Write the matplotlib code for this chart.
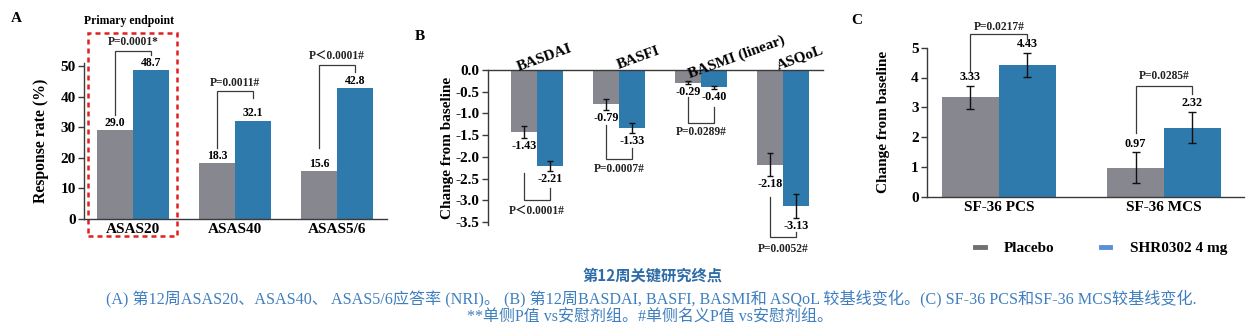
import matplotlib
matplotlib.use("Agg")
import matplotlib.pyplot as plt
from matplotlib.lines import Line2D
from matplotlib.patches import Rectangle
import numpy as np

plt.rcParams['font.family'] = ['Liberation Serif', 'Noto Sans CJK SC', 'DejaVu Sans']
plt.rcParams['font.weight'] = 'bold'
plt.rcParams['axes.unicode_minus'] = False

# ---- data ----
groups = ["Placebo", "SHR0302 4 mg"]

a_categories = ["ASAS20", "ASAS40", "ASAS5/6"]
a_placebo = [29.0, 18.3, 15.6]
a_shr = [48.7, 32.1, 42.8]
a_pvalues = ["P=0.0001*", "P=0.0011#", "P\uff1c0.0001#"]

b_categories = ["BASDAI", "BASFI", "BASMI (linear)", "ASQoL"]
b_placebo = [-1.43, -0.79, -0.29, -2.18]
b_shr = [-2.21, -1.33, -0.40, -3.13]
b_placebo_err = [0.13, 0.12, 0.035, 0.27]
b_shr_err = [0.12, 0.12, 0.04, 0.27]
b_pvalues = ["P\uff1c0.0001#", "P=0.0007#", "P=0.0289#", "P=0.0052#"]

c_categories = ["SF-36 PCS", "SF-36 MCS"]
c_placebo = [3.33, 0.97]
c_shr = [4.43, 2.32]
c_placebo_err = [0.39, 0.52]
c_shr_err = [0.40, 0.52]
c_pvalues = ["P=0.0217#", "P=0.0285#"]

GRAY = "#878790"
BLUE = "#2e7aad"
LINE = "#3a3a3a"
CAP_BLUE = "#3f7fbf"

W, H = 1257, 335
fig = plt.figure(figsize=(W / 100, H / 100), dpi=100)


def px_axes(x0, y0, x1, y1):
    return fig.add_axes([x0 / W, 1 - y1 / H, (x1 - x0) / W, (y1 - y0) / H])


def style_axes(ax):
    for s in ax.spines.values():
        s.set_color(LINE)
        s.set_linewidth(1.0)
    ax.tick_params(axis='y', length=4, width=1, color=LINE, labelsize=11, pad=2)
    ax.tick_params(axis='x', length=0, labelsize=11, pad=3)
    for lab in ax.get_yticklabels():
        lab.set_fontweight('bold')


def bracket(ax, x0, x1, y_left, y_top, y_right, text, y_text):
    ax.plot([x0, x0, x1, x1], [y_left, y_top, y_top, y_right], color=LINE,
            lw=0.9, clip_on=False, solid_joinstyle='miter')
    ax.text((x0 + x1) / 2, y_text, text, ha='center', va='center', fontsize=8.3,
            fontweight='bold', color='#222222', clip_on=False)


# ================= Panel A =================
axA = px_axes(84, 63, 387, 219)
xa = np.arange(len(a_categories))
wa = 0.353
axA.bar(xa - wa / 2, a_placebo, wa, color=GRAY)
axA.bar(xa + wa / 2, a_shr, wa, color=BLUE)
axA.set_xlim(-0.48, 2.49)
axA.set_ylim(0, 51)
axA.set_yticks(np.arange(0, 51, 10))
axA.set_xticks(xa)
axA.set_xticklabels(a_categories, fontsize=11, fontweight='bold')
axA.spines['top'].set_visible(False)
axA.spines['right'].set_visible(False)
axA.set_ylabel("Response rate (%)", fontsize=11.3, fontweight='bold', labelpad=8)
style_axes(axA)
for xi, v in zip(xa - wa / 2, a_placebo):
    axA.annotate(f"{v:.1f}", (xi, v), xytext=(0, 1), textcoords='offset points',
                 ha='center', va='bottom', fontsize=8.5, fontweight='bold')
for xi, v in zip(xa + wa / 2, a_shr):
    axA.annotate(f"{v:.1f}", (xi, v), xytext=(0, 1), textcoords='offset points',
                 ha='center', va='bottom', fontsize=8.5, fontweight='bold')
a_brackets = [(34.0, 55.0, 53.6, 57.9), (23.2, 42.0, 39.6, 44.3), (23.3, 50.3, 48.0, 53.0)]
for xi, p, (yl, yt, yr, ytx) in zip(xa, a_pvalues, a_brackets):
    bracket(axA, xi - wa / 2, xi + wa / 2, yl, yt, yr, p, ytx)
# primary endpoint frame
axA.add_patch(Rectangle((-0.44, -5.6), 0.87, 66.4, fill=False, ec="#e02020",
                        lw=1.8, ls=(0, (2, 1.6)), clip_on=False))
fig.text(129 / W, 1 - 21 / H, "Primary endpoint", ha='center', va='center',
         fontsize=8.5, fontweight='bold')
fig.text(16 / W, 1 - 18 / H, "A", ha='center', va='center', fontsize=11, fontweight='bold')

# ================= Panel B =================
axB = px_axes(488, 70, 823, 225)
xb = np.arange(len(b_categories))
wb = 0.317
axB.bar(xb - wb / 2, b_placebo, wb, color=GRAY)
axB.bar(xb + wb / 2, b_shr, wb, color=BLUE)
axB.errorbar(xb - wb / 2, b_placebo, yerr=b_placebo_err, fmt='none', ecolor='#111111',
             elinewidth=1, capsize=2.5, capthick=1)
axB.errorbar(xb + wb / 2, b_shr, yerr=b_shr_err, fmt='none', ecolor='#111111',
             elinewidth=1, capsize=2.5, capthick=1)
axB.set_xlim(-0.6, 3.49)
axB.set_ylim(-3.57, 0)
b_ticks = np.arange(0, -3.51, -0.5)
axB.set_yticks(b_ticks)
axB.set_yticklabels([f"{t:.1f}" for t in b_ticks])
axB.set_xticks([])
axB.spines['bottom'].set_visible(False)
axB.spines['right'].set_visible(False)
axB.set_ylabel("Change from baseline", fontsize=11, fontweight='bold', labelpad=1)
style_axes(axB)
for xi, v, e in zip(xb - wb / 2, b_placebo, b_placebo_err):
    axB.annotate(f"{v:.2f}", (xi, v - e), xytext=(0, -1.5), textcoords='offset points',
                 ha='center', va='top', fontsize=8.7, fontweight='bold')
for xi, v, e in zip(xb + wb / 2, b_shr, b_shr_err):
    axB.annotate(f"{v:.2f}", (xi, v - e), xytext=(0, -1.5), textcoords='offset points',
                 ha='center', va='top', fontsize=8.7, fontweight='bold')
b_brackets = [(-2.38, -3.0, -2.72, -3.27), (-1.27, -2.05, -1.80, -2.29),
              (-0.62, -1.22, -0.85, -1.43), (-2.92, -3.85, -3.74, -4.12)]
for xi, p, (yl, yb, yr, ytx) in zip(xb, b_pvalues, b_brackets):
    bracket(axB, xi - wb / 2, xi + wb / 2, yl, yb, yr, p, ytx)
b_label_dx = [0.12, 0.27, 0.46, 0.24]
for xi, dx, name in zip(xb, b_label_dx, b_categories):
    axB.text(xi + dx, 0.14, name, rotation=20, rotation_mode='anchor', ha='center',
             va='bottom', fontsize=11, fontweight='bold', clip_on=False)
fig.text(420 / W, 1 - 37 / H, "B", ha='center', va='center', fontsize=11, fontweight='bold')

# ================= Panel C =================
axC = px_axes(927, 47.7, 1244, 196.7)
xc = np.arange(len(c_categories))
wc = 0.345
axC.bar(xc - wc / 2, c_placebo, wc, color=GRAY)
axC.bar(xc + wc / 2, c_shr, wc, color=BLUE)
axC.errorbar(xc - wc / 2, c_placebo, yerr=c_placebo_err, fmt='none', ecolor='#111111',
             elinewidth=1, capsize=3, capthick=1)
axC.errorbar(xc + wc / 2, c_shr, yerr=c_shr_err, fmt='none', ecolor='#111111',
             elinewidth=1, capsize=3, capthick=1)
axC.set_xlim(-0.436, 1.485)
axC.set_ylim(0, 5)
axC.set_yticks(np.arange(0, 6, 1))
axC.set_xticks(xc)
axC.set_xticklabels(c_categories, fontsize=11, fontweight='bold')
axC.spines['top'].set_visible(False)
axC.spines['right'].set_visible(False)
axC.set_ylabel("Change from baseline", fontsize=11, fontweight='bold', labelpad=15)
style_axes(axC)
for xi, v, e in zip(xc - wc / 2, c_placebo, c_placebo_err):
    axC.annotate(f"{v:.2f}", (xi, v + e), xytext=(0, 2), textcoords='offset points',
                 ha='center', va='bottom', fontsize=8.7, fontweight='bold')
for xi, v, e in zip(xc + wc / 2, c_shr, c_shr_err):
    axC.annotate(f"{v:.2f}", (xi, v + e), xytext=(0, 2), textcoords='offset points',
                 ha='center', va='bottom', fontsize=8.7, fontweight='bold')
c_brackets = [(4.18, 5.46, 5.28, 5.68), (2.13, 3.71, 3.45, 4.05)]
for xi, p, (yl, yt, yr, ytx) in zip(xc, c_pvalues, c_brackets):
    bracket(axC, xi - wc / 2, xi + wc / 2, yl, yt, yr, p, ytx)
fig.text(857 / W, 1 - 21 / H, "C", ha='center', va='center', fontsize=11, fontweight='bold')

handles = [Line2D([], [], color="#707070", lw=3.5),
           Line2D([], [], color="#5a8fd6", lw=3.5)]
fig.legend(handles, groups, loc='center', bbox_to_anchor=(1101 / W, 1 - 248 / H),
           ncol=2, frameon=False, handlelength=0.65, handletextpad=1.25,
           columnspacing=3.0, prop={'weight': 'bold', 'size': 11})

# ================= caption =================
fig.text(652 / W, 1 - 276 / H, "第12周关键研究终点", ha='center', va='center',
         fontsize=11, fontweight='bold', color="#2d6ca8",
         family=['Noto Sans CJK SC'])
fig.text(651 / W, 1 - 298 / H,
         "(A) 第12周ASAS20、ASAS40、 ASAS5/6应答率 (NRI)。 (B) 第12周BASDAI, BASFI, BASMI和 ASQoL 较基线变化。"
         "(C) SF-36 PCS和SF-36 MCS较基线变化.",
         ha='center', va='center', fontsize=11.6, fontweight='normal', color=CAP_BLUE)
fig.text(650 / W, 1 - 318 / H, "**单侧P值 vs安慰剂组。#单侧名义P值 vs安慰剂组。",
         ha='center', va='center', fontsize=11.5, fontweight='normal', color=CAP_BLUE)

fig.savefig("out.png", dpi=100)
